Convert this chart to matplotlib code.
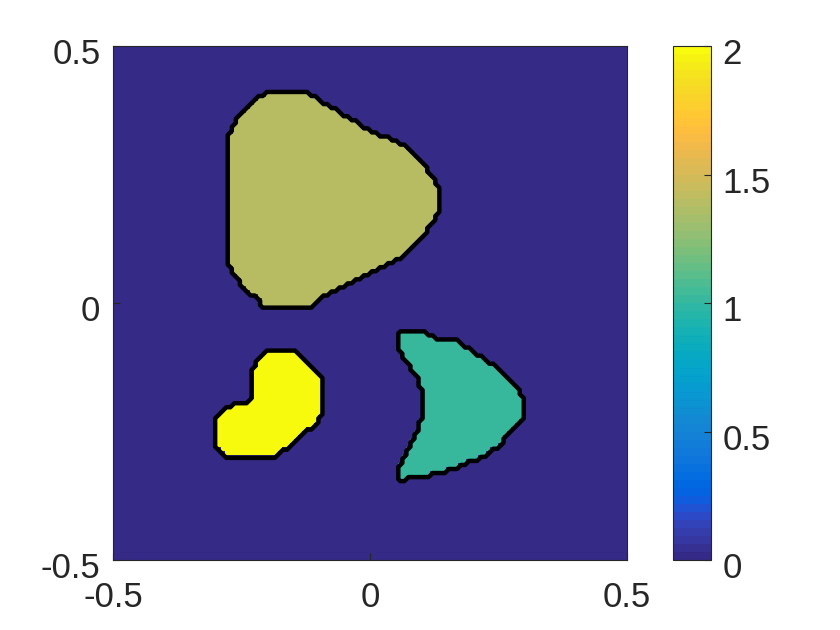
import numpy as np
import matplotlib
matplotlib.use("Agg")
import matplotlib.pyplot as plt
import matplotlib.transforms as mtransforms
from matplotlib.colors import ListedColormap
from matplotlib.path import Path

plt.rcParams['font.family'] = ['Liberation Sans', 'DejaVu Sans']

# parula (64 colours)
parula = ListedColormap([
    [0.2081, 0.1663, 0.5292], [0.2116, 0.1898, 0.5777], [0.2123, 0.2138, 0.6270], [0.2081, 0.2386, 0.6771],
    [0.1959, 0.2645, 0.7279], [0.1707, 0.2919, 0.7792], [0.1253, 0.3242, 0.8303], [0.0591, 0.3598, 0.8683],
    [0.0117, 0.3875, 0.8820], [0.0060, 0.4086, 0.8828], [0.0165, 0.4266, 0.8786], [0.0329, 0.4430, 0.8720],
    [0.0498, 0.4586, 0.8641], [0.0629, 0.4737, 0.8554], [0.0723, 0.4887, 0.8467], [0.0779, 0.5040, 0.8384],
    [0.0793, 0.5200, 0.8312], [0.0749, 0.5375, 0.8263], [0.0641, 0.5570, 0.8240], [0.0488, 0.5772, 0.8228],
    [0.0343, 0.5966, 0.8199], [0.0265, 0.6137, 0.8135], [0.0239, 0.6287, 0.8038], [0.0231, 0.6418, 0.7913],
    [0.0228, 0.6535, 0.7768], [0.0267, 0.6642, 0.7607], [0.0384, 0.6743, 0.7436], [0.0590, 0.6838, 0.7254],
    [0.0843, 0.6928, 0.7062], [0.1133, 0.7015, 0.6859], [0.1453, 0.7098, 0.6646], [0.1801, 0.7177, 0.6424],
    [0.2178, 0.7250, 0.6193], [0.2586, 0.7317, 0.5954], [0.3022, 0.7376, 0.5712], [0.3482, 0.7424, 0.5473],
    [0.3953, 0.7459, 0.5244], [0.4420, 0.7481, 0.5033], [0.4871, 0.7491, 0.4840], [0.5300, 0.7491, 0.4661],
    [0.5709, 0.7485, 0.4494], [0.6099, 0.7473, 0.4337], [0.6473, 0.7456, 0.4188], [0.6834, 0.7435, 0.4044],
    [0.7184, 0.7411, 0.3905], [0.7525, 0.7384, 0.3768], [0.7858, 0.7356, 0.3633], [0.8185, 0.7327, 0.3498],
    [0.8507, 0.7299, 0.3360], [0.8824, 0.7274, 0.3217], [0.9139, 0.7258, 0.3063], [0.9450, 0.7261, 0.2886],
    [0.9739, 0.7314, 0.2666], [0.9938, 0.7455, 0.2403], [0.9990, 0.7653, 0.2164], [0.9955, 0.7861, 0.1967],
    [0.9880, 0.8066, 0.1794], [0.9789, 0.8271, 0.1633], [0.9697, 0.8481, 0.1475], [0.9626, 0.8705, 0.1309],
    [0.9589, 0.8949, 0.1132], [0.9598, 0.9218, 0.0948], [0.9661, 0.9514, 0.0755], [0.9763, 0.9831, 0.0538]])

triangle = [(-0.189, 0.412), (-0.126, 0.412), (-0.117, 0.405), (-0.045, 0.362), (-0.014, 0.342),
            (0.072, 0.302), (0.107, 0.268), (0.130, 0.226), (0.130, 0.175), (0.111, 0.142),
            (0.064, 0.093), (-0.006, 0.058), (-0.045, 0.035), (-0.103, 0.006), (-0.117, -0.008),
            (-0.204, -0.010), (-0.214, 0.002), (-0.253, 0.039), (-0.272, 0.070), (-0.274, 0.323),
            (-0.263, 0.350), (-0.249, 0.372), (-0.228, 0.391), (-0.204, 0.405)]
kidney = [(-0.191, -0.091), (-0.156, -0.091), (-0.136, -0.105), (-0.103, -0.134), (-0.093, -0.156),
          (-0.093, -0.202), (-0.101, -0.228), (-0.136, -0.261), (-0.161, -0.282), (-0.191, -0.300),
          (-0.268, -0.302), (-0.292, -0.290), (-0.302, -0.272), (-0.302, -0.228), (-0.286, -0.212),
          (-0.267, -0.200), (-0.233, -0.195), (-0.228, -0.169), (-0.228, -0.130), (-0.218, -0.111),
          (-0.200, -0.097)]
crescent = [(0.053, -0.056), (0.111, -0.058), (0.117, -0.066), (0.169, -0.072), (0.189, -0.086),
            (0.228, -0.111), (0.253, -0.130), (0.292, -0.173), (0.302, -0.195), (0.296, -0.228),
            (0.247, -0.282), (0.208, -0.305), (0.136, -0.331), (0.091, -0.340), (0.058, -0.344),
            (0.053, -0.335), (0.058, -0.319), (0.072, -0.292), (0.088, -0.261), (0.101, -0.222),
            (0.101, -0.175), (0.091, -0.144), (0.064, -0.105), (0.053, -0.078)]
shapes = [triangle, kidney, crescent]
values = [1.4, 2.0, 1.0]

n = 128
xs = np.linspace(-0.5, 0.5, n)
X, Y = np.meshgrid(xs, xs)
pts = np.column_stack([X.ravel(), Y.ravel()])
Z = np.zeros(n * n)
for shp, v in zip(shapes, values):
    Z[Path(shp).contains_points(pts)] = v
Z = Z.reshape(n, n)

fig = plt.figure(figsize=(8.4, 6.3), dpi=100)
ax = fig.add_axes([0.1345, 0.111, 0.6119, 0.816])
im = ax.imshow(Z, origin='lower', extent=[-0.5, 0.5, -0.5, 0.5], cmap=parula,
               vmin=0, vmax=2, interpolation='nearest', aspect='auto')
ax.contour(X, Y, Z, levels=[0.5], colors='k', linewidths=3.2)
ax.set_xlim(-0.5, 0.5)
ax.set_ylim(-0.5, 0.5)
ax.set_xticks([-0.5, 0, 0.5])
ax.set_yticks([-0.5, 0, 0.5])
ax.set_xticklabels(['-0.5', '0', '0.5'])
ax.set_yticklabels(['-0.5', '0', '0.5'])
ax.tick_params(direction='in', length=5, width=0.8, labelsize=25, color='#262626', labelcolor='#262626')
ax.tick_params(axis='x', pad=15)
ax.tick_params(axis='y', pad=9)
for s in ax.spines.values():
    s.set_color('#262626')
    s.set_linewidth(0.8)

cax = fig.add_axes([0.801, 0.111, 0.046, 0.816])
cb = fig.colorbar(im, cax=cax, ticks=[0, 0.5, 1, 1.5, 2])
cb.ax.set_yticklabels(['0', '0.5', '1', '1.5', '2'])
cb.ax.tick_params(direction='in', length=5, width=0.8, labelsize=25, color='#262626', labelcolor='#262626', pad=8)
cb.outline.set_linewidth(0.8)
cb.outline.set_edgecolor('#262626')

# MATLAB draws y tick labels a little below the tick
shift = mtransforms.ScaledTranslation(0, -5 / 100, fig.dpi_scale_trans)
for lbl in ax.get_yticklabels() + cb.ax.get_yticklabels():
    lbl.set_transform(lbl.get_transform() + shift)

fig.savefig('out.png', dpi=100)
